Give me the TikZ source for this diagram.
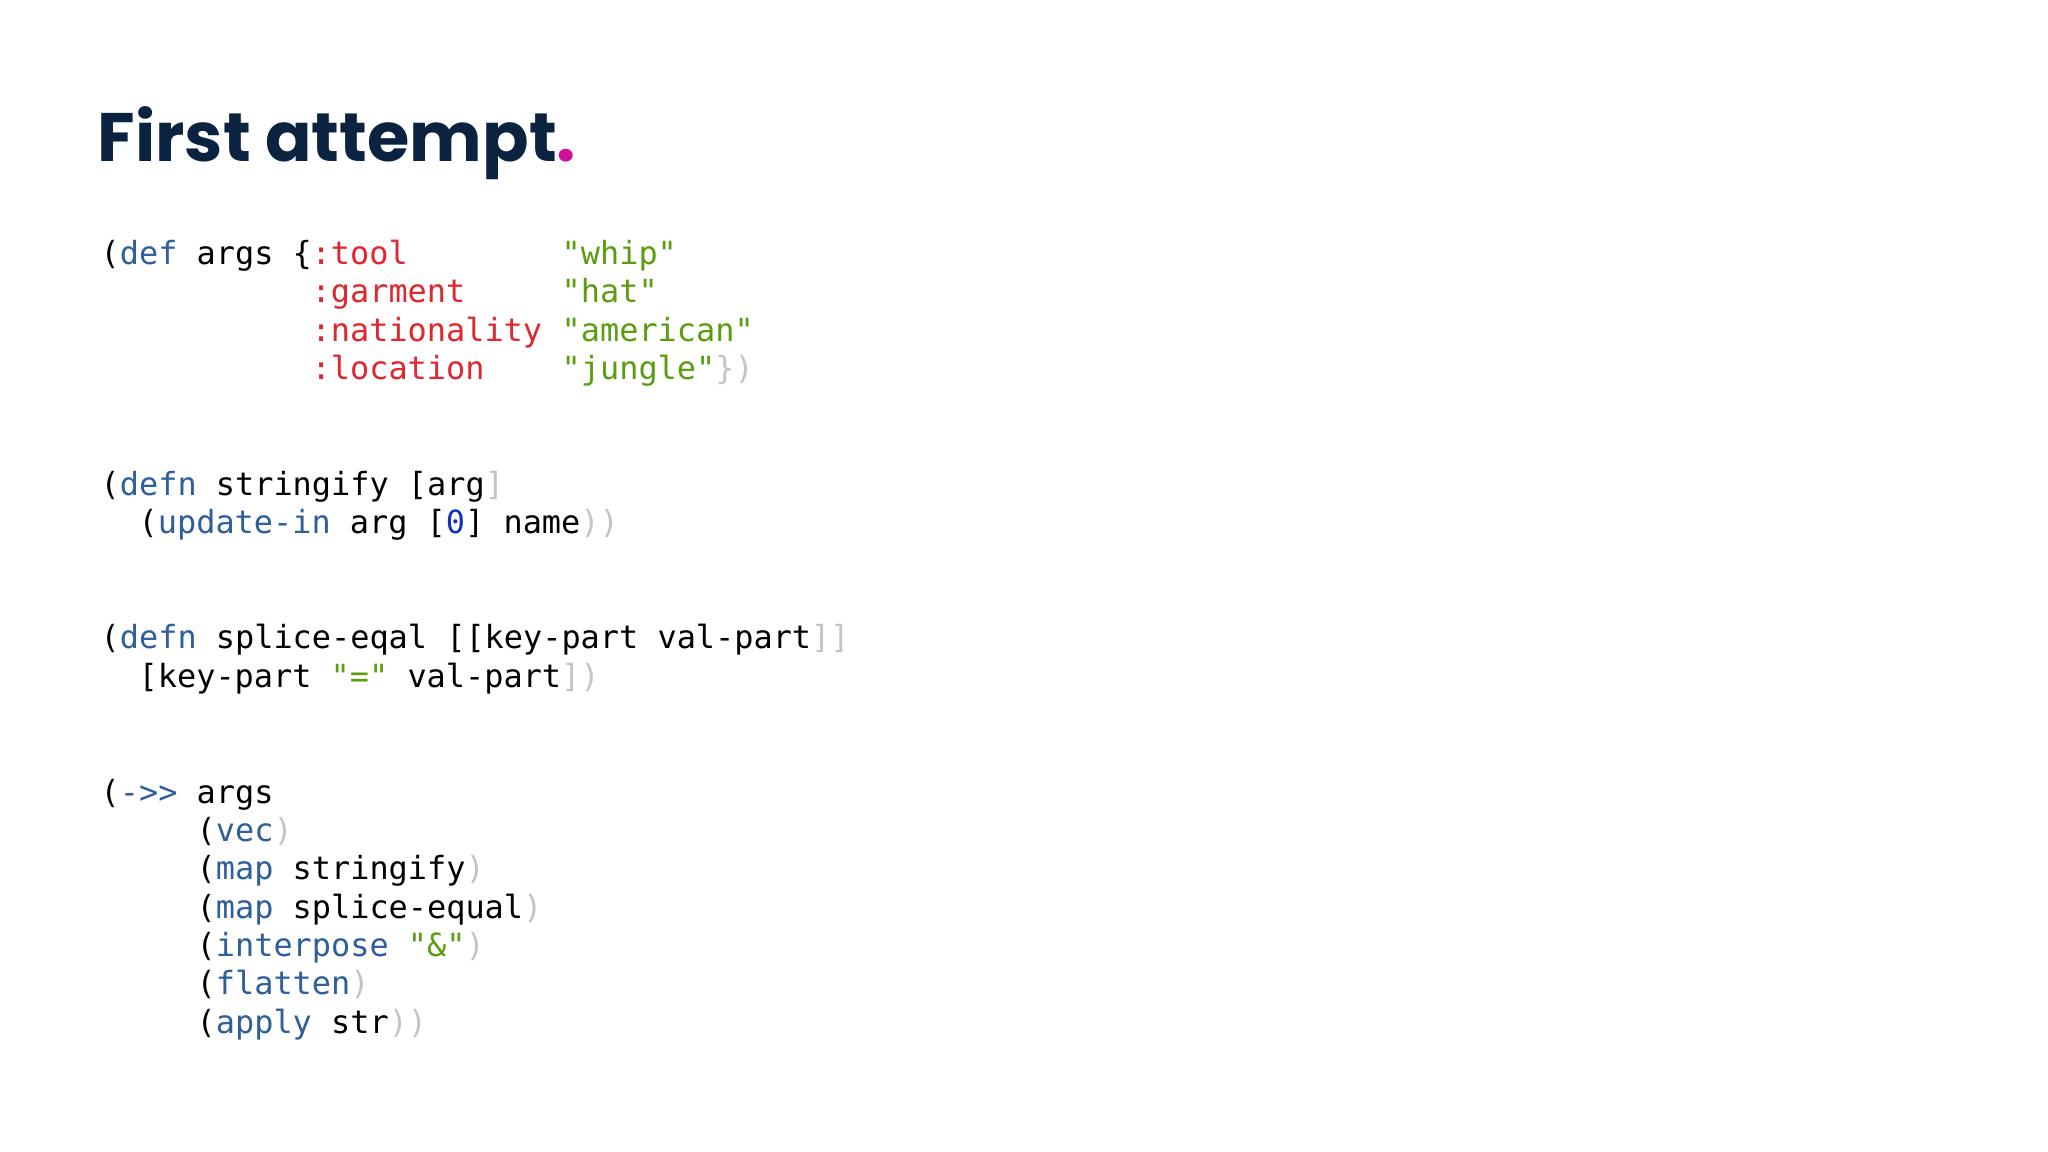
\documentclass[tikz,border=0pt]{standalone}
\usepackage{fontspec}
\usepackage{xcolor}
\setmonofont{DejaVu Sans Mono}
\newfontfamily\titlefont{Poppins}
\definecolor{navy}{HTML}{0B2340}
\definecolor{dotpink}{HTML}{D0109A}
\definecolor{kwblue}{HTML}{2F5F9A}
\definecolor{keyred}{HTML}{E0262E}
\definecolor{strgreen}{HTML}{5A9E10}
\definecolor{closegrey}{HTML}{C4C4C4}
\definecolor{numblue}{HTML}{1030C0}
\newcommand{\kw}[1]{\textcolor{kwblue}{#1}}
\newcommand{\kkey}[1]{\textcolor{keyred}{#1}}
\newcommand{\sval}[1]{\textcolor{strgreen}{#1}}
\newcommand{\cls}[1]{\textcolor{closegrey}{#1}}
\begin{document}
\begin{tikzpicture}[x=0.01cm,y=-0.01cm,
% common options for code lines:
code/.style = {anchor=base west, inner sep=0, text=black,
            font=\ttfamily\fontsize{9.07pt}{11pt}\selectfont}]
\fill[white] (0,0) rectangle (2048,1152);
\useasboundingbox (0,0) rectangle (2048,1152);
\node[anchor=base west,inner sep=0,text=navy,font=\titlefont\bfseries\fontsize{19.5pt}{22pt}\selectfont] (title) at (97,162) {First attempt\textcolor{dotpink}{.}};
% the map of args
\node[code] (D0) at (100,265) {(\kw{def} args \{};
\node[code] (K1) at (311,265) {\kkey{:tool}};
\node[code] (K2) at (311,303) {\kkey{:garment}};
\node[code] (K3) at (311,342) {\kkey{:nationality}};
\node[code] (K4) at (311,380) {\kkey{:location}};
\node[code] (V1) at (561,265) {\sval{"whip"}};
\node[code] (V2) at (561,303) {\sval{"hat"}};
\node[code] (V3) at (561,342) {\sval{"american"}};
\node[code] (V4) at (561,380) {\sval{"jungle"}\cls{\})}};
% stringify
\node[code] (S1) at (100,496) {(\kw{defn} stringify [arg\cls{]}};
\node[code] (S2) at (138,534) {(\kw{update-in} arg [\textcolor{numblue}{0}] name\cls{))}};
% splice-eqal
\node[code] (E1) at (100,649) {(\kw{defn} splice-eqal [[key-part val-part\cls{]]}};
\node[code] (E2) at (138,687) {[key-part \sval{"="} val-part\cls{])}};
% threading
\node[code] (T0) at (100,803) {(\kw{->>} args};
\node[code] (T1) at (196,841) {(\kw{vec}\cls{)}};
\node[code] (T2) at (196,879) {(\kw{map} stringify\cls{)}};
\node[code] (T3) at (196,918) {(\kw{map} splice-equal\cls{)}};
\node[code] (T4) at (196,956) {(\kw{interpose} \sval{"\&"}\cls{)}};
\node[code] (T5) at (196,994) {(\kw{flatten}\cls{)}};
\node[code] (T6) at (196,1033) {(\kw{apply} str\cls{))}};
\end{tikzpicture}
\end{document}
